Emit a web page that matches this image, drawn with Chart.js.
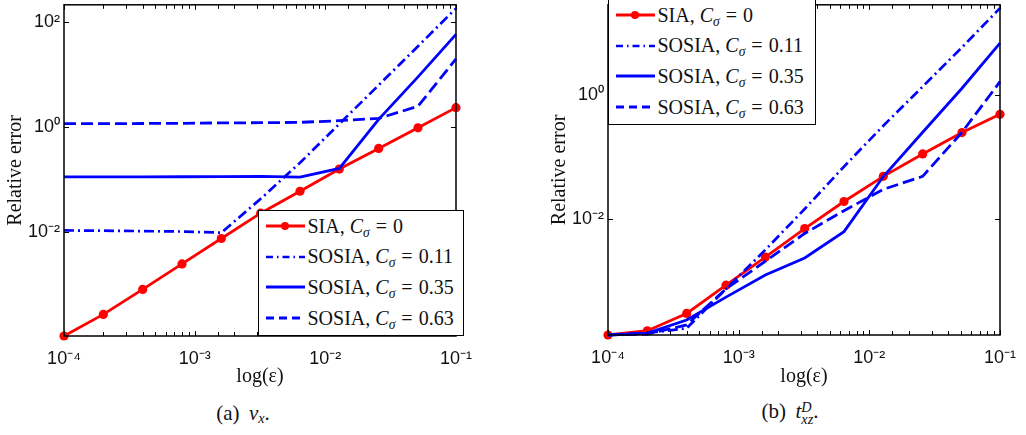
<!DOCTYPE html>
<html>
<head>
<meta charset="utf-8">
<script src="https://cdn.jsdelivr.net/npm/chart.js@4.4.1/dist/chart.umd.min.js"></script>
<style>
  body { margin: 0; width: 1026px; height: 435px; overflow: hidden; background: #fff; position: relative; }
  .plot { position: absolute; top: -10px; width: 484px; height: 400px; }
  .legend { position: absolute; box-sizing: border-box; border: 1.3px solid #000; background: #fff;
            font-family: 'Liberation Serif', 'Times New Roman', serif; font-size: 20px; color: #111; }
  .legend .row { display: flex; align-items: center; height: 30.6px; padding-left: 6.5px; white-space: nowrap; }
  .legend svg { margin-right: 3px; flex: none; }
  .legend sub { font-size: 0.68em; line-height: 0; vertical-align: -0.28em; font-style: italic; }
  .legend .eq { margin: 0 0.3em; }
  .cap { position: absolute; transform: translate(-50%, -50%);
         font-family: 'Liberation Serif', 'Times New Roman', serif; font-size: 21px; color: #111; white-space: nowrap; }
  .cap sub { font-size: 0.68em; line-height: 0; vertical-align: -0.28em; font-style: italic; }
  .cap .gap { margin-left: 0.2em; }
  .stack { display: inline-block; vertical-align: -0.45em; line-height: 0.9; font-size: 0.68em; font-style: italic; text-align: left; }
</style>
</head>
<body>
<div class="plot" style="left:0"><canvas id="chartVx" width="484" height="400"></canvas></div>
<div class="plot" style="left:544px"><canvas id="chartTxz" width="484" height="400"></canvas></div>
<div class="legend" id="legendVx" style="left:258px; top:210px; width:206px; height:126px;"></div>
<div class="legend" id="legendTxz" style="left:608px; top:-3px; width:208px; height:128px; padding-top:2px;"></div>
<div class="cap" style="left:243px; top:413px;">(a)<span class="gap"></span> <i>v</i><sub>x</sub>.</div>
<div class="cap" style="left:790px; top:413px;">(b)<span class="gap"></span> <i>t</i><span class="stack">D<br>xz</span>.</div>

<script>
// perturbation parameter, halved from run to run
const eps = [1e-4, 2e-4, 4e-4, 8e-4, 1.6e-3, 3.2e-3, 6.4e-3, 1.28e-2, 2.56e-2, 5.12e-2, 1e-1];

const schemes = ['SIA', 'SOSIA', 'SOSIA', 'SOSIA'];
const cSigma = ['0', '0.11', '0.35', '0.63'];

// relative error of v_x
const vxSIA  = [1.07e-4, 2.75e-4, 8.2e-4, 2.5e-3, 7.6e-3, 2.3e-2, 6.0e-2, 0.158, 0.39, 0.96, 2.32];
const vx011  = [1.08e-2, 1.07e-2, 1.05e-2, 1.03e-2, 9.8e-3, 4.3e-2, 0.208, 1.14, 6.2, 34, 178];
const vx035  = [0.112, 0.112, 0.112, 0.113, 0.114, 0.115, 0.111, 0.163, 1.39, 8.9, 57];
const vx063  = [1.15, 1.15, 1.16, 1.17, 1.19, 1.2, 1.22, 1.31, 1.45, 2.46, 19.5];

// relative error of t_xz^D
const txSIA  = [1.34e-4, 1.57e-4, 2.98e-4, 8.5e-4, 2.42e-3, 6.95e-3, 1.9e-2, 4.83e-2, 0.111, 0.245, 0.483];
const tx011  = [1.34e-4, 1.44e-4, 1.72e-4, 7.4e-4, 3.16e-3, 1.44e-2, 6.95e-2, 0.316, 1.35, 5.8, 24.8];
const tx035  = [1.34e-4, 1.44e-4, 2.34e-4, 5.46e-4, 1.24e-3, 2.34e-3, 6.2e-3, 4.8e-2, 0.248, 1.27, 6.8];
const tx063  = [1.34e-4, 1.39e-4, 1.95e-4, 7.4e-4, 2.07e-3, 5.8e-3, 1.35e-2, 2.98e-2, 4.83e-2, 0.248, 1.62];

const xTicks = [1e-4, 1e-3, 1e-2, 1e-1];
const vxYTicks = [1e-2, 1e0, 1e2];
const txYTicks = [1e-2, 1e0];

const SUP = { '-': '⁻', '0': '⁰', '1': '¹', '2': '²', '3': '³', '4': '⁴' };

function isDecade(v) {
  const l = Math.log10(v);
  return Math.abs(l - Math.round(l)) < 1e-6;
}

function powLabel(v) {
  if (!isDecade(v)) return '';
  const e = Math.round(Math.log10(v));
  return '10' + String(e).split('').map(c => SUP[c]).join('');
}

// box around the axes, ticks pointing inwards on all four sides
const frame = {
  id: 'frame',
  afterDatasetsDraw(chart) {
    const { ctx, chartArea: a, scales: { x, y } } = chart;
    ctx.save();
    ctx.strokeStyle = '#000';
    ctx.lineWidth = 1;
    ctx.beginPath();
    x.ticks.forEach(t => {
      const px = Math.round(x.getPixelForValue(t.value)) + 0.5;
      const len = isDecade(t.value) ? 5 : 4;
      ctx.moveTo(px, a.bottom); ctx.lineTo(px, a.bottom - len);
      ctx.moveTo(px, a.top); ctx.lineTo(px, a.top + len);
    });
    y.ticks.forEach(t => {
      const py = Math.round(y.getPixelForValue(t.value)) + 0.5;
      ctx.moveTo(a.left, py); ctx.lineTo(a.left + 5, py);
      ctx.moveTo(a.right, py); ctx.lineTo(a.right - 5, py);
    });
    ctx.stroke();
    ctx.lineWidth = 1.5;
    ctx.strokeRect(a.left, a.top, a.right - a.left, a.bottom - a.top);
    ctx.restore();
  }
};

function series(ys) {
  return eps.map((e, i) => ({ x: e, y: ys[i] }));
}

function datasets(sia, s011, s035, s063) {
  const blue = '#0000ff';
  return [
    { label: 'SIA, Cσ = 0', data: series(sia), borderColor: '#ff0000', backgroundColor: '#ff0000',
      borderWidth: 2.8, pointRadius: 4.6, pointBorderWidth: 0, pointBackgroundColor: '#ff0000',
      order: 1, legendDash: [] },
    { label: 'SOSIA, Cσ = 0.11', data: series(s011), borderColor: blue, backgroundColor: blue,
      borderWidth: 2.7, borderDash: [10, 4, 2, 4], pointRadius: 0, order: 0, legendDash: [7, 4, 1.5, 4] },
    { label: 'SOSIA, Cσ = 0.35', data: series(s035), borderColor: blue, backgroundColor: blue,
      borderWidth: 2.8, pointRadius: 0, order: 0, legendDash: [] },
    { label: 'SOSIA, Cσ = 0.63', data: series(s063), borderColor: blue, backgroundColor: blue,
      borderWidth: 2.8, borderDash: [12, 5], pointRadius: 0, order: 0, legendDash: [8, 5] }
  ];
}

function makeChart(id, sets, yMin, yMax, yTicks, xHeight) {
  const tickFont = { family: "'Liberation Sans', Arial, sans-serif", size: 18 };
  const titleFont = { family: "'Liberation Serif', 'Times New Roman', serif", size: 20 };
  return new Chart(document.getElementById(id), {
    type: 'line',
    data: { datasets: sets },
    options: {
      responsive: false,
      animation: false,
      devicePixelRatio: 1,
      clip: false,
      tension: 0,
      layout: { padding: { top: 8, right: 20, left: 0, bottom: 0 } },
      plugins: { legend: { display: false }, tooltip: { enabled: false } },
      scales: {
        x: {
          type: 'logarithmic',
          min: xTicks[0],
          max: xTicks[xTicks.length - 1],
          afterFit: s => { s.height = xHeight; },
          grid: { display: false, drawTicks: false },
          border: { display: false },
          ticks: { autoSkip: false, maxRotation: 0, padding: 12, color: '#111', font: tickFont, callback: v => powLabel(v) },
          title: { display: true, text: 'log(ε)', color: '#111', font: titleFont, padding: { top: 0, bottom: 1 } }
        },
        y: {
          type: 'logarithmic',
          min: yMin,
          max: yMax,
          afterBuildTicks: s => { s.ticks = yTicks.map(v => ({ value: v, major: true })); },
          afterFit: s => { s.width = 64; },
          grid: { display: false, drawTicks: false },
          border: { display: false },
          ticks: { padding: 4, color: '#111', font: tickFont, callback: v => powLabel(v) },
          title: { display: true, text: 'Relative error', color: '#111', font: titleFont, padding: { top: 3.5, bottom: 0 } }
        }
      }
    },
    plugins: [frame]
  });
}

function buildLegend(chart, el) {
  el.innerHTML = chart.data.datasets.map((ds, i) => {
    const dash = ds.legendDash.join(' ');
    const marker = ds.pointRadius > 0 ? `<circle cx="19" cy="6" r="4" fill="${ds.pointBackgroundColor}"/>` : '';
    return `<div class="row"><svg width="39" height="12">` +
      `<line x1="0" y1="6" x2="39" y2="6" stroke="${ds.borderColor}" stroke-width="${ds.borderWidth}" stroke-dasharray="${dash}"/>` +
      `${marker}</svg><span>${schemes[i]}, <i>C</i><sub>σ</sub><span class="eq">=</span>${cSigma[i]}</span></div>`;
  }).join('');
}

const vxChart = makeChart('chartVx', datasets(vxSIA, vx011, vx035, vx063), 1.07e-4, 208, vxYTicks, 54);
const txChart = makeChart('chartTxz', datasets(txSIA, tx011, tx035, tx063), 1.34e-4, 28.1, txYTicks, 55);

buildLegend(vxChart, document.getElementById('legendVx'));
buildLegend(txChart, document.getElementById('legendTxz'));
</script>
</body>
</html>
